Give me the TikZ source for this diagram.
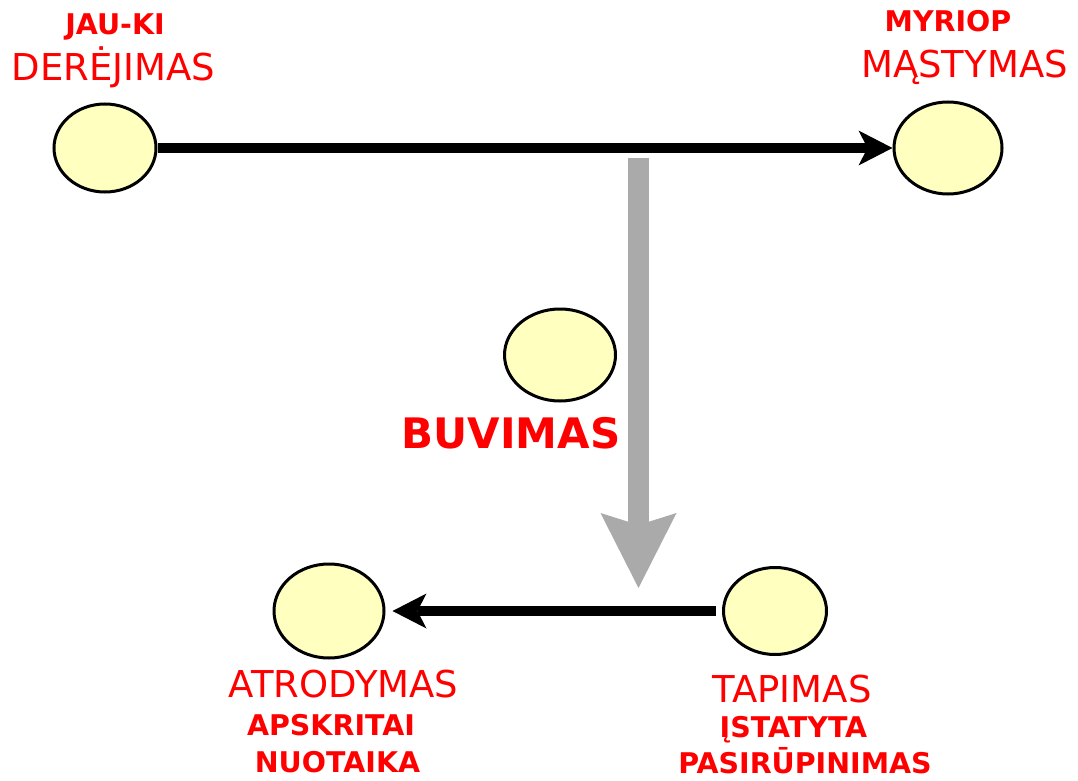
\documentclass[tikz,border=0pt]{standalone}
\usepackage{fontspec}
\setmainfont{DejaVu Sans}
\usetikzlibrary{shapes.geometric,arrows.meta}
\definecolor{ellfill}{HTML}{FFFFC0}
\definecolor{lblred}{HTML}{FF0000}
\definecolor{arrgray}{HTML}{AAAAAA}
\tikzset{
  ell/.style={ellipse, draw=black, line width=3pt, fill=ellfill, inner sep=0pt},
  bigtxt/.style={text=lblred, font=\fontsize{37}{40}\selectfont, anchor=base, inner sep=0pt},
  smalltxt/.style={text=lblred, font=\bfseries\fontsize{28.5}{30}\selectfont, anchor=base, inner sep=0pt},
  blackarrow/.style={line width=9.5pt, -{Stealth[length=34pt,width=35pt,inset=9pt,line width=0pt]}},
  grayarrow/.style={arrgray, line width=21pt, -{Stealth[length=75pt,width=76pt,inset=12pt,line width=0pt]}}
}
\begin{document}
\begin{tikzpicture}[x=1pt,y=-1pt]
\useasboundingbox (0,0) rectangle (1078,781);
% ellipses
\node[ell, minimum width=102pt, minimum height=88pt] (e1) at (105,148) {};
\node[ell, minimum width=108pt, minimum height=92pt] (e2) at (948,148) {};
\node[ell, minimum width=111pt, minimum height=92pt] (e3) at (560,355) {};
\node[ell, minimum width=110pt, minimum height=94pt] (e4) at (329,611) {};
\node[ell, minimum width=103pt, minimum height=87pt] (e5) at (775,611) {};
% gray arrow
\coordinate (gtop) at (638.5,158);
\coordinate (gtip) at (638.5,588);
\draw[grayarrow] (gtop) -- (gtip);
% black arrows
\draw[blackarrow] (e1) -- (e2);
\draw[blackarrow, shorten <=6pt, shorten >=7pt] (e5) -- (e4);
% labels
\node[smalltxt] (t1) at (115,35) {JAU-KI};
\node[bigtxt] (t2) at (113.5,81) {DERĖJIMAS};
\node[smalltxt] (t3) at (948,32) {MYRIOP};
\node[bigtxt] (t4) at (964.5,78) {MĄSTYMAS};
\node[text=lblred, font=\bfseries\fontsize{42}{44}\selectfont, anchor=base, inner sep=0pt] (t5) at (511,448) {BUVIMAS};
\node[bigtxt] (t6) at (343.5,697) {ATRODYMAS};
\node[smalltxt] (t7) at (331,735) {APSKRITAI};
\node[smalltxt] (t8) at (337.5,772) {NUOTAIKA};
\node[bigtxt] (t9) at (792,702) {TAPIMAS};
\node[smalltxt] (t10) at (793.5,737) {ĮSTATYTA};
\node[smalltxt] (t11) at (805,773) {PASIRŪPINIMAS};
\end{tikzpicture}
\end{document}
